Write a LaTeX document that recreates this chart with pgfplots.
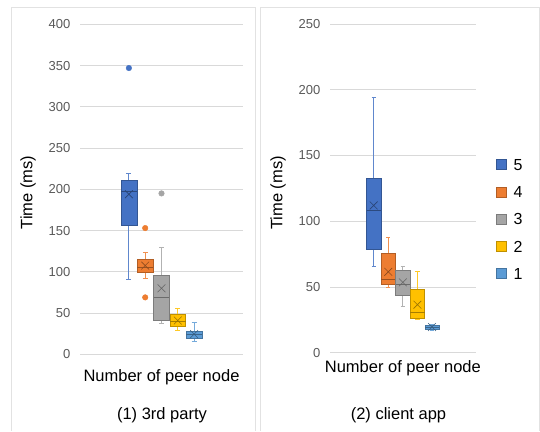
\documentclass[border=0pt]{standalone}
\usepackage{fontspec}
\setmainfont{Liberation Sans}
\usepackage{pgfplots}
\pgfplotsset{compat=1.18}
\definecolor{cA}{HTML}{4472C4}
\definecolor{cB}{HTML}{ED7D31}
\definecolor{cC}{HTML}{A5A5A5}
\definecolor{cD}{HTML}{FFC000}
\definecolor{cE}{HTML}{5B9BD5}
\definecolor{gridc}{HTML}{D9D9D9}
\definecolor{tickc}{HTML}{595959}
\definecolor{framec}{HTML}{E2E2E2}
% box: position, lower whisker, lower quartile, median, upper quartile, upper whisker, mean, colour
\newcommand{\bx}[8]{%
 \pgfmathsetmacro\bxL{#1-0.49}\pgfmathsetmacro\bxR{#1+0.49}%
 \pgfmathsetmacro\bwL{#1-0.15}\pgfmathsetmacro\bwR{#1+0.15}%
 \addplot[color=#8!85!white, line width=0.9pt] coordinates {(#1,#2) (#1,#6)};
 \addplot[color=#8!85!white, line width=0.9pt] coordinates {(\bwL,#2) (\bwR,#2)};
 \addplot[color=#8!85!white, line width=0.9pt] coordinates {(\bwL,#6) (\bwR,#6)};
 \addplot[draw=#8!75!black, fill=#8, line width=0.6pt] coordinates {(\bxL,#3) (\bxR,#3) (\bxR,#5) (\bxL,#5)} -- cycle;
 \addplot[color=#8!65!black, line width=0.7pt] coordinates {(\bxL,#4) (\bxR,#4)};
 \addplot[only marks, mark=x, mark size=5.5pt, mark options={color=#8!60!black, line width=0.6pt}] coordinates {(#1,#7)};
}
% outlier: position, value, colour
\newcommand{\outl}[3]{%
 \addplot[only marks, mark=*, mark size=2.8pt, mark options={draw=#3, fill=#3}] coordinates {(#1,#2)};
}
\pgfplotsset{
  legsq/.style={legend image code/.code={\draw[draw=#1!75!black, fill=#1, line width=0.5pt] (0pt,-5pt) rectangle (10pt,5pt); \path (17pt,0pt);}},
  excel/.style={
    scale only axis,
    xmin=0, xmax=10, ymin=0,
    xtick=\empty,
    ytick distance=50,
    ymajorgrids,
    grid style={gridc, line width=0.8pt},
    axis line style={draw=none},
    major tick length=0pt,
    /pgf/number format/assume math mode=true,
    yticklabel style={font=\fontsize{13}{15}\selectfont, text=tickc, inner sep=0pt, xshift=-9.5pt},
    label style={font=\fontsize{16.5}{19}\selectfont, text=black},
  },
}
\begin{document}
\begin{tikzpicture}
\path (0pt,0pt) rectangle (540pt,431pt);
\draw[framec, line width=0.8pt] (11pt,0pt) -- (11pt,424pt) -- (255pt,424pt) -- (255pt,0pt);
\draw[framec, line width=0.8pt] (260pt,0pt) -- (260pt,424pt) -- (539pt,424pt) -- (539pt,0pt);
% left panel
\begin{axis}[excel, at={(80pt,76.7pt)}, anchor=south west, width=163pt, height=330pt, ymax=400,
  xlabel={Number of peer node},
  xlabel style={at={(rel axis cs:0.5,0)}, anchor=base, yshift=-26.7pt},
  ylabel={Time (ms)},
  ylabel style={at={(rel axis cs:0,0.49)}, anchor=center, yshift=52pt},
]
\bx{3}{91}{156.5}{197}{210.5}{219}{194}{cA}
\outl{3}{347}{cA}
\bx{4}{92.5}{99.5}{106}{115.5}{124}{107.5}{cB}
\outl{4}{153}{cB}
\outl{4}{69}{cB}
\bx{5}{38}{41}{68.5}{96}{130}{80}{cC}
\outl{5}{195}{cC}
\bx{6}{28.5}{33.5}{40}{48.5}{55}{41}{cD}
\bx{7}{15}{19}{24}{27.5}{39}{24.5}{cE}
\end{axis}
% right panel
\begin{axis}[excel, at={(330pt,78.3pt)}, anchor=south west, width=145.7pt, height=328.7pt, ymax=250,
  xlabel={Number of peer node},
  xlabel style={at={(rel axis cs:0.5,0)}, anchor=base, yshift=-20pt},
  ylabel={Time (ms)},
  ylabel style={at={(rel axis cs:0,0.486)}, anchor=center, yshift=52pt},
  legend style={at={(1.139,0.59)}, anchor=north west, draw=none, fill=none,
    font=\fontsize{16}{19}\selectfont, inner sep=0pt, row sep=15.7pt,
    nodes={inner sep=0pt, text height=11.5pt, text depth=0pt}},
  legend cell align=left,
]
\addlegendimage{legsq=cA}\addlegendentry{5}
\addlegendimage{legsq=cB}\addlegendentry{4}
\addlegendimage{legsq=cC}\addlegendentry{3}
\addlegendimage{legsq=cD}\addlegendentry{2}
\addlegendimage{legsq=cE}\addlegendentry{1}
\bx{3}{65.5}{79}{108.5}{133}{194}{112}{cA}
\bx{4}{50}{52}{56}{75.5}{88}{61.5}{cB}
\bx{5}{35}{43.5}{52}{62.5}{65.5}{53.5}{cC}
\bx{6}{25}{26}{31}{48}{61.5}{36.5}{cD}
\bx{7}{17}{18}{19.5}{20.5}{21.5}{19.5}{cE}
\end{axis}
\node[anchor=base, font=\fontsize{16.5}{19}\selectfont] at (162pt,12pt) {(1) 3rd party};
\node[anchor=base, font=\fontsize{16.5}{19}\selectfont] at (398.5pt,12pt) {(2) client app};
\end{tikzpicture}
\end{document}
